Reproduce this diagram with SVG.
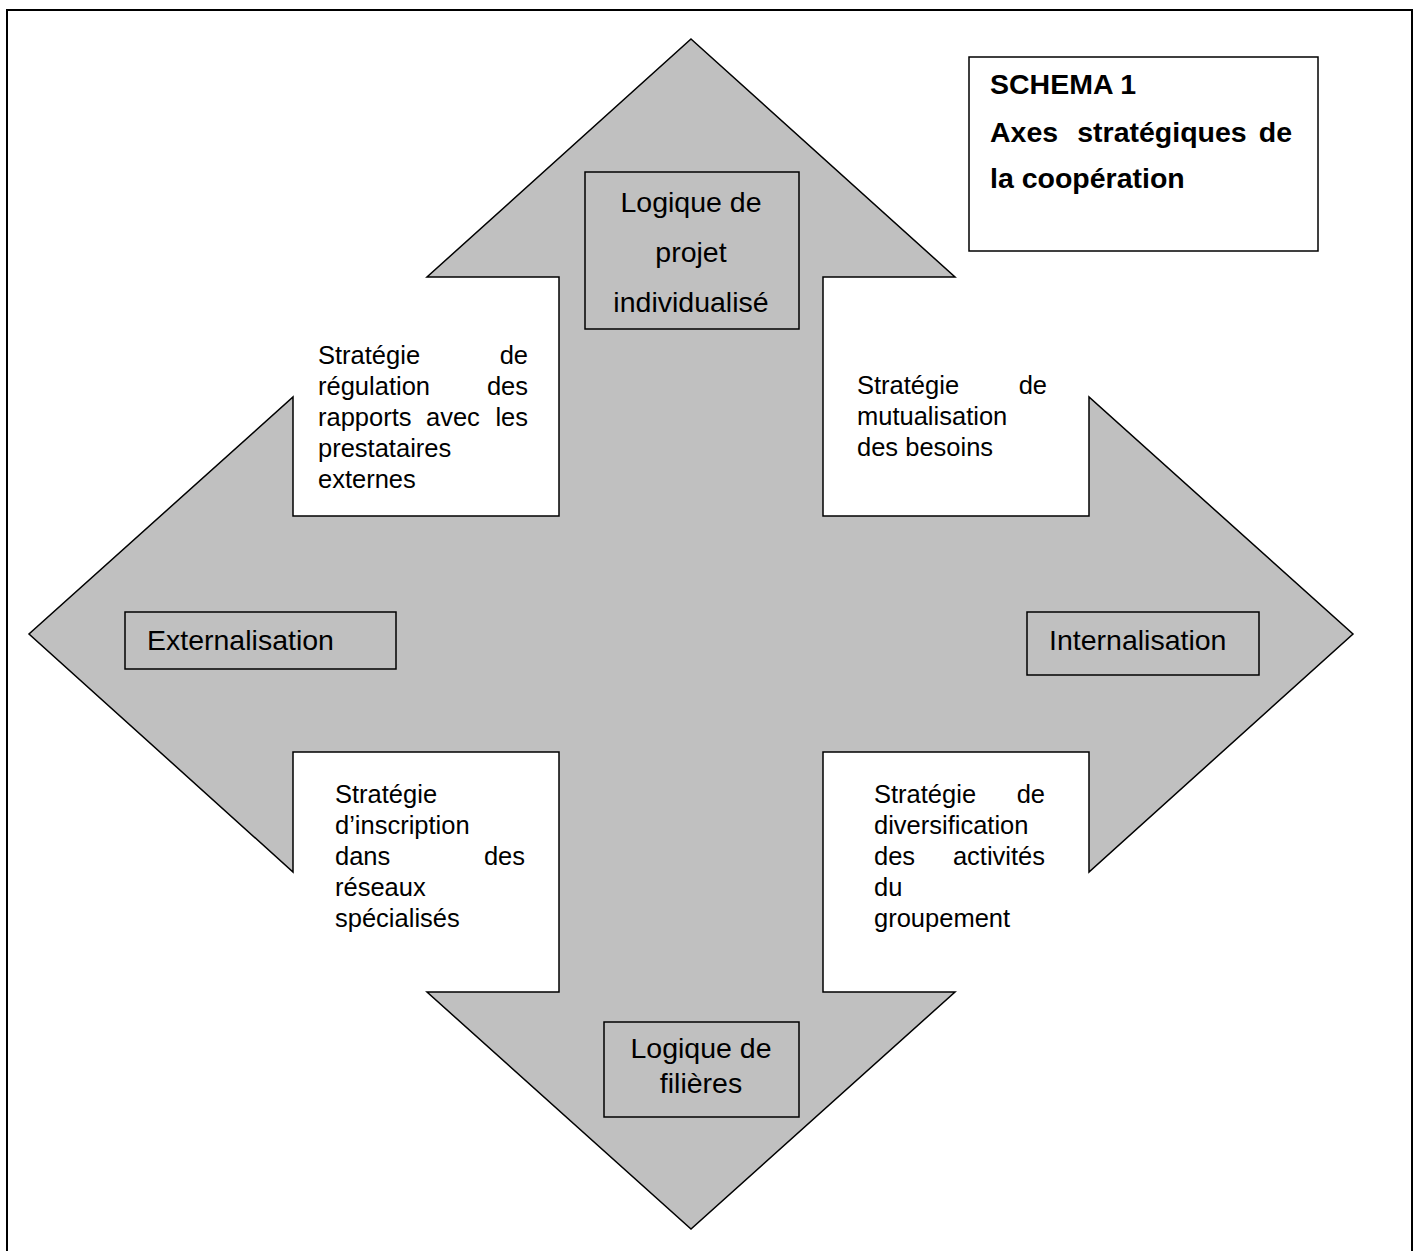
<svg xmlns="http://www.w3.org/2000/svg" width="1416" height="1251" viewBox="0 0 1416 1251">
<style>
.frame{fill:#fff;stroke:#000;stroke-width:2}
.arrow{fill:#c0c0c0;stroke:#000;stroke-width:1.5;stroke-linejoin:miter}
.lbl{fill:#c0c0c0;stroke:#000;stroke-width:1.5}
.title{fill:#fff;stroke:#000;stroke-width:1.5}
text{font-family:"Liberation Sans",Arial,sans-serif;fill:#000}
.big{font-size:28.5px}
.bold{font-size:28.5px;font-weight:bold}
.sm{font-size:25.5px}
.mid{text-anchor:middle}
.end{text-anchor:end}
</style>
<rect class="frame" x="7" y="10" width="1405" height="1270"/>
<g id="cross-arrow">
<polygon class="arrow" points="691,39 955,277 823,277 823,516 1089,516 1089,397 1353,634 1089,872 1089,752 823,752 823,992 955,992 691,1229 427,992 559,992 559,752 293,752 293,872 29,634 293,397 293,516 559,516 559,277 427,277"/>
</g>
<g id="title-box">
<rect class="title" x="969" y="57" width="349" height="194"/>
<text class="bold" x="990" y="94">SCHEMA 1</text>
<text class="bold" x="990" y="142">Axes</text>
<text class="bold mid" x="1162" y="142">stratégiques</text>
<text class="bold end" x="1292" y="142">de</text>
<text class="bold" x="990" y="188">la coopération</text>
</g>
<g id="node-top">
<rect class="lbl" x="585" y="172" width="214" height="157"/>
<text class="big mid" x="691" y="212">Logique de</text>
<text class="big mid" x="691" y="262">projet</text>
<text class="big mid" x="691" y="312">individualisé</text>
</g>
<g id="node-left">
<rect class="lbl" x="125" y="612" width="271" height="57"/>
<text class="big" x="147" y="650">Externalisation</text>
</g>
<g id="node-right">
<rect class="lbl" x="1027" y="612" width="232" height="63"/>
<text class="big" x="1049" y="650">Internalisation</text>
</g>
<g id="node-bottom">
<rect class="lbl" x="604" y="1022" width="195" height="95"/>
<text class="big mid" x="701" y="1058">Logique de</text>
<text class="big mid" x="701" y="1093">filières</text>
</g>
<g id="text-top-left">
<text class="sm" x="318" y="364">Stratégie</text>
<text class="sm end" x="528" y="364">de</text>
<text class="sm" x="318" y="395">régulation</text>
<text class="sm end" x="528" y="395">des</text>
<text class="sm" x="318" y="426">rapports</text>
<text class="sm" x="426" y="426">avec</text>
<text class="sm end" x="528" y="426">les</text>
<text class="sm" x="318" y="457">prestataires</text>
<text class="sm" x="318" y="488">externes</text>
</g>
<g id="text-top-right">
<text class="sm" x="857" y="394">Stratégie</text>
<text class="sm end" x="1047" y="394">de</text>
<text class="sm" x="857" y="425">mutualisation</text>
<text class="sm" x="857" y="456">des besoins</text>
</g>
<g id="text-bottom-left">
<text class="sm" x="335" y="803">Stratégie</text>
<text class="sm" x="335" y="834">d’inscription</text>
<text class="sm" x="335" y="865">dans</text>
<text class="sm end" x="525" y="865">des</text>
<text class="sm" x="335" y="896">réseaux</text>
<text class="sm" x="335" y="927">spécialisés</text>
</g>
<g id="text-bottom-right">
<text class="sm" x="874" y="803">Stratégie</text>
<text class="sm end" x="1045" y="803">de</text>
<text class="sm" x="874" y="834">diversification</text>
<text class="sm" x="874" y="865">des</text>
<text class="sm end" x="1045" y="865">activités</text>
<text class="sm" x="874" y="896">du</text>
<text class="sm" x="874" y="927">groupement</text>
</g>
<g id="connectors"></g>
</svg>
